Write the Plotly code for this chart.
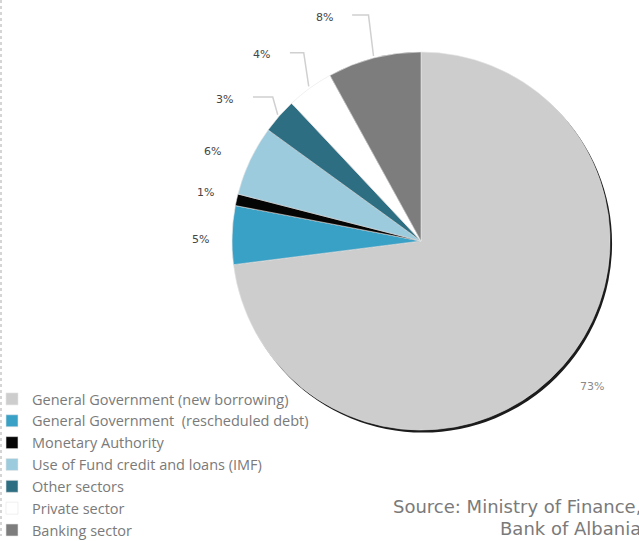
import math
import plotly.graph_objects as go

# Creditor structure of the public debt, shares in percent
categories = [
    "General Government (new borrowing)",
    "General Government  (rescheduled debt)",
    "Monetary Authority",
    "Use of Fund credit and loans (IMF)",
    "Other sectors",
    "Private sector",
    "Banking sector",
]
shares = [73, 5, 1, 6, 3, 4, 8]
colors = ["#cdcdcd", "#3aa1c6", "#050505", "#9dcbde", "#2d6e82", "#ffffff", "#7d7d7d"]
source_lines = ["Source: Ministry of Finance,", "Bank of Albania"]

W, H = 639, 541
CX, CY, R = 421, 241, 189          # pie centre and radius in pixels
SHADOW_DX, SHADOW_DY = 2, 2.5      # drop shadow offset

# per-slice placement of the percentage labels (radius in px, angular nudge in degrees)
label_radius = [225, 221, 221, 227, 242, 245, 244]
label_nudge = [-1, -1.5, 0, -2, -5.5, -4.5, -9]
label_colors = ["#8a8a8a", "#454545", "#454545", "#454545", "#454545", "#454545", "#454545"]
with_leader = [False, False, False, False, True, True, True]


def px_x(x):
    return x / W


def px_y(y):
    return 1 - y / H


def domain(cx, cy):
    return dict(x=[px_x(cx - R), px_x(cx + R)], y=[px_y(cy + R), px_y(cy - R)])


def polar(angle_deg, radius):
    a = math.radians(angle_deg)
    return CX + radius * math.sin(a), CY - radius * math.cos(a)


fig = go.Figure()

# dark rim under the pie
fig.add_trace(go.Pie(
    values=[1], labels=["shadow"], marker=dict(colors=["#1c1c1c"]),
    domain=domain(CX + SHADOW_DX, CY + SHADOW_DY), textinfo="none",
    hoverinfo="skip", showlegend=False, sort=False,
))

fig.add_trace(go.Pie(
    labels=categories, values=shares, sort=False, direction="clockwise", rotation=0,
    marker=dict(colors=colors, line=dict(color="#e6e6e6", width=0.6)),
    domain=domain(CX, CY), textinfo="none", hoverinfo="label+value",
))

annotations = []
shapes = []
total = sum(shares)
cum = 0
for i, v in enumerate(shares):
    mid = (cum + v / 2) / total * 360
    cum += v
    lx, ly = polar(mid + label_nudge[i], label_radius[i])
    annotations.append(dict(
        x=px_x(lx), y=px_y(ly), xref="paper", yref="paper", text=f"{v}%",
        showarrow=False, font=dict(family="DejaVu Sans", size=11, color=label_colors[i]),
        xanchor="center", yanchor="middle",
    ))
    if with_leader[i]:
        ex, ey = polar(mid, R + 2)
        pts = [(lx + 28, ly - 2), (ex - 5, ly - 2), (ex, ey)]
        path = "M " + " L ".join(f"{px_x(x)},{px_y(y)}" for x, y in pts)
        shapes.append(dict(type="path", xref="paper", yref="paper", path=path,
                           line=dict(color="#d0d0d0", width=1.5)))

# dashed rule along the left edge
shapes.append(dict(type="line", xref="paper", yref="paper", x0=px_x(1), x1=px_x(1),
                   y0=px_y(0), y1=px_y(536), line=dict(color="#c8c8c8", width=1.5, dash="dot")))

for k, line in enumerate(source_lines):
    annotations.append(dict(
        x=px_x(643), y=px_y(506 + 22 * k), xref="paper", yref="paper", text=line,
        showarrow=False, xanchor="right", yanchor="middle",
        font=dict(family="DejaVu Sans", size=18, color="#7a7a7a"),
    ))

fig.update_layout(
    width=W, height=H, margin=dict(l=0, r=0, t=0, b=0, autoexpand=False),
    paper_bgcolor="white", plot_bgcolor="white",
    annotations=annotations, shapes=shapes,
    legend=dict(
        x=0, y=px_y(546), xanchor="left", yanchor="bottom", indentation=-8,
        font=dict(family="Open Sans", size=14.5, color="#7a7a7a"),
        bgcolor="rgba(0,0,0,0)", traceorder="normal", itemclick=False,
    ),
)

fig.write_html("out.html")
